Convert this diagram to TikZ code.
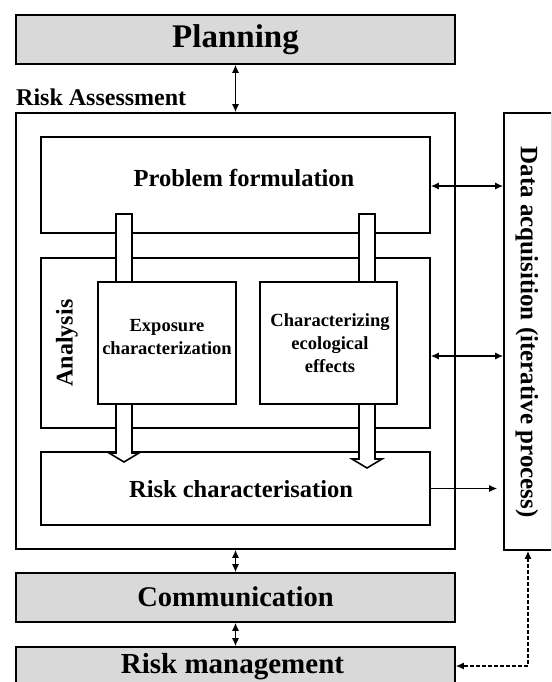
\documentclass[tikz,border=0pt]{standalone}
\usepackage{fontspec}
\setmainfont{Liberation Serif}
\usetikzlibrary{arrows.meta,calc}
\begin{document}
\begin{tikzpicture}[x=1pt,y=-1pt,
  box/.style={draw, line width=1.6pt, inner sep=0pt, fill=white},
  graybox/.style={box, fill=black!15},
  lbl/.style={inner sep=0pt, font=\bfseries, align=center},
  tip/.style={Latex[length=8pt,width=7pt]},
  dbl/.style={line width=1.3pt, {Latex[length=8pt,width=7pt]}-{Latex[length=8pt,width=7pt]}},
  sgl/.style={line width=1.3pt, -{Latex[length=8pt,width=7pt]}},
  hollow/.style={draw, line width=1.6pt, fill=white, line join=miter}]
\useasboundingbox (0,0) rectangle (551,682);
\clip (0,0) rectangle (551,682);

% top band and heading
\node[graybox, minimum width=439pt, minimum height=49pt] (plan) at (235.5,39.5) {};
\node[lbl, font=\bfseries\fontsize{33}{36}\selectfont] (plant) at (235.5,40) {Planning};

\node[lbl, font=\bfseries\fontsize{24}{28}\selectfont, anchor=west] (rat) at (16,97) {Risk Assessment};

% risk assessment frame and its three stages
\node[box, minimum width=439pt, minimum height=436pt] (ra) at (235.5,331) {};
\node[box, minimum width=389pt, minimum height=96pt] (prob) at (235.5,185) {};
\node[box, minimum width=389pt, minimum height=170pt] (ana) at (235.5,343) {};
\node[box, minimum width=389pt, minimum height=73pt] (rc) at (235.5,488.5) {};

% data acquisition column
\node[box, minimum width=48pt, minimum height=437pt] (data) at (528,331.5) {};

% hollow flow arrows from problem formulation to risk characterisation
\draw[hollow] (116,214) -- (132,214) -- (132,453) -- (139,453) -- (124,462)
  -- (109,453) -- (116,453) -- cycle;
\draw[hollow] (359,214) -- (375,214) -- (375,459) -- (382,459) -- (367,468)
  -- (352,459) -- (359,459) -- cycle;

% analysis sub-boxes
\node[box, minimum width=138pt, minimum height=122pt] (expo) at (167,343) {};
\node[box, minimum width=137pt, minimum height=122pt] (eco) at (328.5,343) {};

% bottom bands
\node[graybox, minimum width=439pt, minimum height=49pt] (comm) at (235.5,597.5) {};
\node[graybox, minimum width=439pt, minimum height=50pt] (rm) at (235.5,672) {};

% labels
\node[lbl, font=\bfseries\fontsize{24.5}{28}\selectfont] (probt) at (244,178) {Problem formulation};
\node[lbl, font=\bfseries\fontsize{24.5}{28}\selectfont] (rct) at (241,489) {Risk characterisation};
\node[lbl, font=\bfseries\fontsize{24}{28}\selectfont, rotate=90] (anat) at (67,343) {Analysis};
\node[lbl, font=\bfseries\fontsize{18.5}{23}\selectfont] (expot) at (167,337) {Exposure\\characterization};
\node[lbl, font=\bfseries\fontsize{18.5}{23}\selectfont] (ecot) at (330,343) {Characterizing\\ecological\\effects};
\node[lbl, font=\bfseries\fontsize{25}{28}\selectfont, rotate=-90] (datat) at (527,332) {Data acquisition (iterative process)};
\node[lbl, font=\bfseries\fontsize{28.5}{32}\selectfont] (commt) at (235.5,597) {Communication};
\node[lbl, font=\bfseries\fontsize{29}{32}\selectfont] (rmt) at (232.5,667) {Risk management};

% connectors
\draw[dbl] (plan.south) -- (ra.north);
\draw[dbl] (ra.south) -- (comm.north);
\draw[dbl] (comm.south) -- (rm.north);
\coordinate (probout) at ($(prob.east)+(0,1)$);
\draw[dbl] (probout) -- (probout -| data.west);
\coordinate (anaout) at ($(ana.east)+(0,13)$);
\draw[dbl] (anaout) -- (anaout -| data.west);
\draw[sgl, shorten >=6pt] (rc.east) -- (rc.east -| data.west);
\coordinate (rmin) at ($(rm.east)+(0,-6)$);
\draw[line width=1.3pt, dash pattern=on 4pt off 2pt, {Latex[length=8pt,width=7pt]}-{Latex[length=8pt,width=7pt]}]
  (data.south) |- (rmin);
\end{tikzpicture}
\end{document}
